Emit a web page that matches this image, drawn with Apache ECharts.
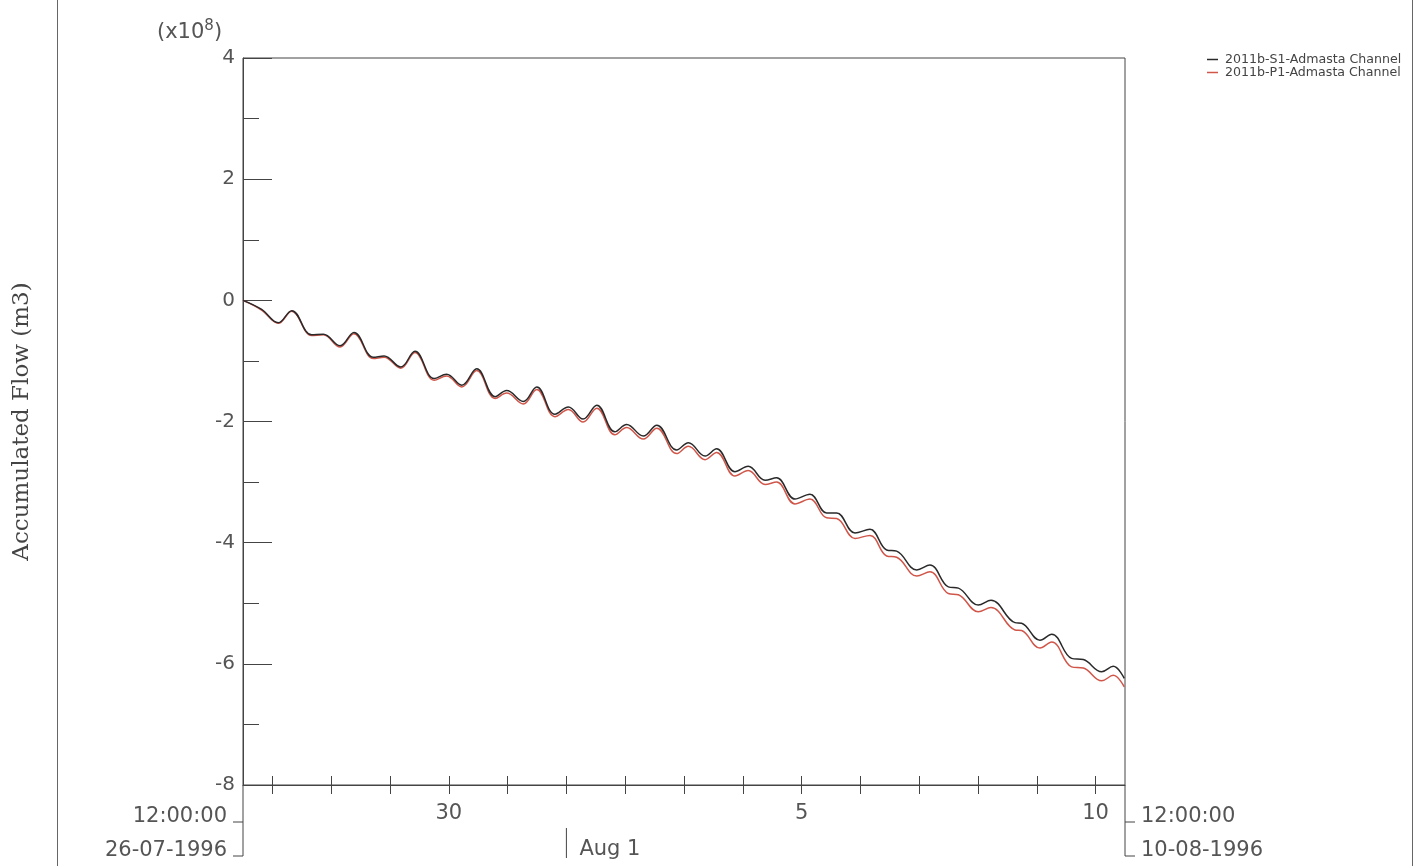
<!DOCTYPE html>
<html>
<head>
<meta charset="utf-8">
<script src="https://cdn.jsdelivr.net/npm/echarts@6/dist/echarts.min.js"></script>
<style>
html,body{margin:0;padding:0;background:#fff;}
#chart{width:1423px;height:866px;}
</style>
</head>
<body>
<div id="chart"></div>
<script>
// Time in hours since 26-07-1996 12:00:00
const hours = [0, 7.6, 14.4, 19.9, 28.0, 32.8, 39.6, 45.3, 53.2, 57.6,
  64.4, 70.2, 78.0, 83.1, 89.3, 95.4, 102.9, 107.6, 114.4, 119.9,
  127.3, 132.8, 138.8, 144.4, 151.8, 156.6, 163.4, 168.9, 177.0, 181.8,
  188.6, 193.3, 200.8, 206.2, 213.1, 217.8, 225.3, 231.4, 238.2, 242.3,
  249.8, 255.9, 262.7, 266.8, 275.0, 280.4, 287.9, 292.0, 300.1, 305.3,
  315.1, 317.8, 325.3, 330.1, 338.2, 343.0, 350.5, 355.2, 359.7];
// Accumulated flow (x10^8 m3)
const s1Values = [0, -0.15, -0.37, -0.17, -0.57, -0.56, -0.75, -0.53, -0.94, -0.92,
  -1.10, -0.84, -1.29, -1.22, -1.40, -1.13, -1.59, -1.49, -1.67, -1.43,
  -1.88, -1.76, -1.96, -1.73, -2.17, -2.05, -2.24, -2.06, -2.47, -2.35,
  -2.57, -2.45, -2.83, -2.74, -2.97, -2.93, -3.28, -3.20, -3.51, -3.51,
  -3.84, -3.78, -4.12, -4.14, -4.45, -4.37, -4.73, -4.75, -5.03, -4.95,
  -5.32, -5.33, -5.61, -5.51, -5.91, -5.93, -6.13, -6.04, -6.24];
const p1Values = [0, -0.16, -0.38, -0.18, -0.58, -0.57, -0.77, -0.55, -0.96, -0.94,
  -1.12, -0.86, -1.32, -1.25, -1.43, -1.16, -1.62, -1.53, -1.71, -1.47,
  -1.92, -1.80, -2.01, -1.78, -2.22, -2.10, -2.29, -2.11, -2.53, -2.41,
  -2.63, -2.51, -2.90, -2.81, -3.04, -3.00, -3.36, -3.28, -3.59, -3.60,
  -3.93, -3.88, -4.22, -4.24, -4.55, -4.48, -4.84, -4.86, -5.14, -5.07,
  -5.44, -5.45, -5.74, -5.64, -6.05, -6.07, -6.28, -6.19, -6.38];
const seriesNames = ['2011b-S1-Admasta Channel', '2011b-P1-Admasta Channel'];
// Day ticks (midnights) in hours since start
const dayTicks = [12, 36, 60, 84, 108, 132, 156, 180, 204, 228, 252, 276, 300, 324, 348];
const dayLabelValues = [84, 228, 348];
const dayLabelTexts = ['30', '5', '10'];
const aug1Hour = 132;
const startLabel = ['12:00:00', '26-07-1996'];
const endLabel = ['12:00:00', '10-08-1996'];

const textColor = '#555';
const lineColor = '#444';
const sans = 'DejaVu Sans';

const chart = echarts.init(document.getElementById('chart'), null, {renderer: 'canvas'});

const option = {
  animation: false,
  backgroundColor: '#fff',
  grid: {left: 243, right: 298, top: 58, bottom: 81, containLabel: false, outerBoundsMode: 'none',
    show: true, borderColor: lineColor, borderWidth: 1, backgroundColor: 'transparent'},
  legend: {
    orient: 'vertical', left: 1207, top: 53, itemGap: 0, padding: 0,
    itemWidth: 11, itemHeight: 1.5, icon: 'rect',
    textStyle: {fontFamily: sans, fontSize: 12.6, color: '#444', lineHeight: 11, padding: [0,0,0,2]},
    data: seriesNames
  },
  xAxis: [{
    type: 'value', min: 0, max: 360, position: 'bottom',
    axisLine: {show: true, onZero: false, lineStyle: {color: lineColor, width: 1}},
    axisTick: {show: true, customValues: dayTicks, length: 9, lineStyle: {color: lineColor}},
    axisLabel: {show: true, customValues: dayLabelValues, margin: 18, fontFamily: sans, fontSize: 21, color: textColor,
      formatter: function (v) { const i = dayLabelValues.indexOf(v); return i >= 0 ? dayLabelTexts[i] : ''; }},
    splitLine: {show: false}
  }, {
    type: 'value', min: 0, max: 360, position: 'bottom', offset: 0,
    axisLine: {show: false, onZero: false},
    axisTick: {show: true, inside: true, customValues: dayTicks, length: 9, lineStyle: {color: lineColor}},
    axisLabel: {show: false},
    splitLine: {show: false}
  }],
  yAxis: {
    type: 'value', min: -8, max: 4, interval: 2,
    name: 'Accumulated Flow (m3)', nameLocation: 'middle', nameRotate: 90, nameGap: 209,
    nameTextStyle: {fontFamily: 'DejaVu Serif', fontSize: 23, color: '#444'},
    axisLine: {show: true, onZero: false, lineStyle: {color: lineColor, width: 1}},
    axisTick: {show: true, inside: true, length: 29, lineStyle: {color: lineColor}},
    minorTick: {show: true, splitNumber: 2, length: 16, lineStyle: {color: lineColor}},
    axisLabel: {margin: 8, fontFamily: sans, fontSize: 20, color: textColor},
    splitLine: {show: false}
  },
  series: [{
    name: seriesNames[0], type: 'line', xAxisIndex: 0, showSymbol: false, smooth: 0.4,
    lineStyle: {color: '#2a2a2a', width: 1.5}, itemStyle: {color: '#2a2a2a'},
    data: hours.map((h, i) => [h, s1Values[i]]), z: 3
  }, {
    name: seriesNames[1], type: 'line', xAxisIndex: 0, showSymbol: false, smooth: 0.4,
    lineStyle: {color: '#d0564a', width: 1.5}, itemStyle: {color: '#d0564a'},
    data: hours.map((h, i) => [h, p1Values[i]]), z: 2
  }]
};
chart.setOption(option);

const x0 = chart.convertToPixel({xAxisIndex: 0}, 0);
const x1 = chart.convertToPixel({xAxisIndex: 0}, 360);
const xa = chart.convertToPixel({xAxisIndex: 0}, aug1Hour);
const yb = chart.convertToPixel({yAxisIndex: 0}, -8);
const ls = {stroke: lineColor, lineWidth: 1};
const txt = (x, y, t, align, size) => ({type: 'text', x: x, y: y, style: {text: t, fill: textColor, font: (size || 21) + 'px "DejaVu Sans"', align: align, verticalAlign: 'middle'}});
chart.setOption({
  graphic: [
    {type: 'line', shape: {x1: 57.5, y1: 0, x2: 57.5, y2: 866}, style: {stroke: '#666', lineWidth: 1}},
    {type: 'line', shape: {x1: 1412.5, y1: 0, x2: 1412.5, y2: 866}, style: {stroke: '#666', lineWidth: 1}},
    {type: 'line', shape: {x1: x0, y1: yb, x2: x0, y2: yb + 71}, style: ls},
    {type: 'line', shape: {x1: x0 - 10, y1: yb + 37, x2: x0, y2: yb + 37}, style: ls},
    {type: 'line', shape: {x1: x0 - 10, y1: yb + 71, x2: x0, y2: yb + 71}, style: ls},
    {type: 'line', shape: {x1: x1, y1: yb, x2: x1, y2: yb + 71}, style: ls},
    {type: 'line', shape: {x1: x1, y1: yb + 37, x2: x1 + 10, y2: yb + 37}, style: ls},
    {type: 'line', shape: {x1: x1, y1: yb + 71, x2: x1 + 10, y2: yb + 71}, style: ls},
    {type: 'line', shape: {x1: xa, y1: yb + 43, x2: xa, y2: yb + 73}, style: ls},
    txt(x0 - 16, yb + 32, startLabel[0], 'right'),
    txt(x0 - 16, yb + 66, startLabel[1], 'right'),
    txt(x1 + 16, yb + 32, endLabel[0], 'left'),
    txt(x1 + 16, yb + 66, endLabel[1], 'left'),
    txt(xa + 13, yb + 65, 'Aug 1', 'left'),
    {type: 'text', x: 157, y: 19, style: {
      text: '(x10{sup|8})', fill: textColor, font: '21px "DejaVu Sans"',
      rich: {sup: {fontSize: 15, fontFamily: sans, fill: textColor, verticalAlign: 'top', padding: [0,0,12,0]}}
    }}
  ]
});
</script>
</body>
</html>
